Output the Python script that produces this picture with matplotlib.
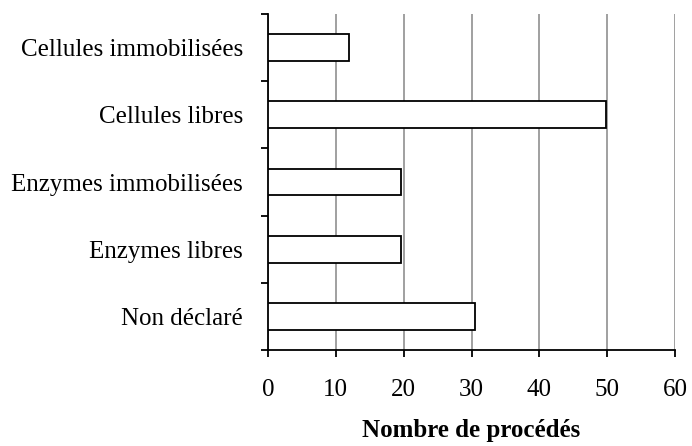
import matplotlib
matplotlib.use("Agg")
import matplotlib.pyplot as plt
import numpy as np

# categories from bottom to top
categories = ["Non déclaré", "Enzymes libres", "Enzymes immobilisées",
              "Cellules libres", "Cellules immobilisées"]
values = [30.5, 19.6, 19.6, 49.8, 12.0]
xticks = [0, 10, 20, 30, 40, 50, 60]

plt.rcParams['font.family'] = ['Liberation Serif', 'DejaVu Serif']

fig = plt.figure(figsize=(6.92, 4.46), dpi=100)
ax = fig.add_axes([268 / 692, 1 - 350 / 446, 407 / 692, 336 / 446])

y = np.arange(len(categories))
ax.barh(y, values, height=0.4, color='white', edgecolor='black', linewidth=1.3, zorder=3)

ax.set_xlim(0, 60)
ax.set_ylim(-0.5, len(categories) - 0.5)
ax.set_xticks(xticks)
ax.xaxis.grid(True, color='#999999', linewidth=1.3, zorder=0)
ax.set_yticks(y)
ax.set_yticklabels(categories)
ax.set_yticks(np.arange(-0.5, len(categories)), minor=True)
ax.tick_params(axis='y', which='major', length=0, pad=18, labelsize=18)
ax.tick_params(axis='y', which='minor', length=5, width=1.3, direction='out')
ax.tick_params(axis='x', which='major', length=5, width=1.3, direction='out', pad=16, labelsize=18)

for s in ['top', 'right']:
    ax.spines[s].set_visible(False)
for s in ['left', 'bottom']:
    ax.spines[s].set_linewidth(1.3)

ax.set_xlabel("Nombre de procédés", fontsize=18, fontweight='bold', labelpad=13)

fig.savefig("out.png", dpi=100)
